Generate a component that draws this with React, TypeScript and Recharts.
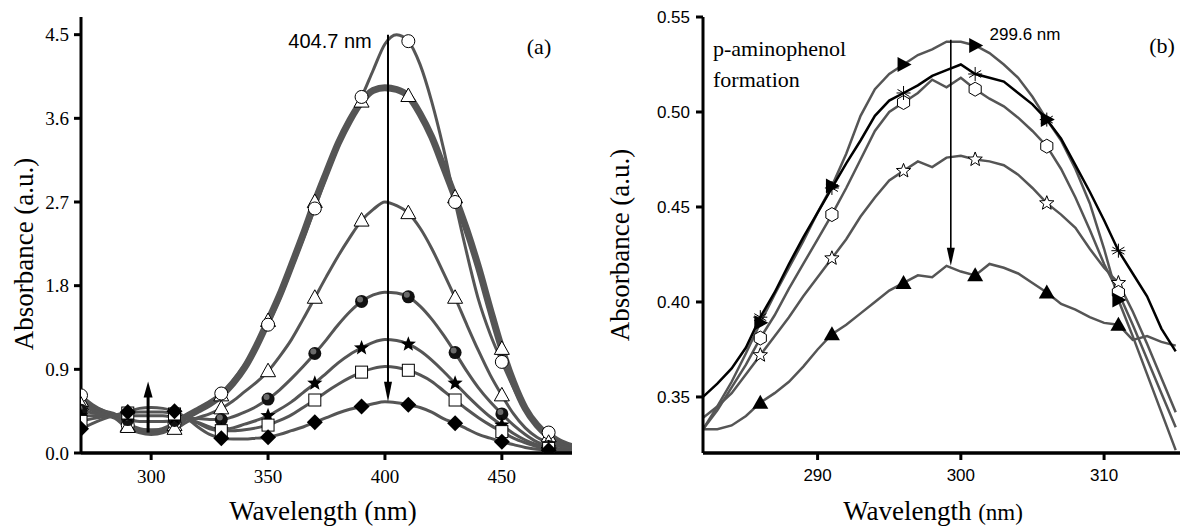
import React from 'react';
import { LineChart, Line, XAxis, YAxis, ReferenceLine } from 'recharts';

// ---- panel (a): nitrophenolate reduction spectra ----
const wavelengthsA = [
  270, 275, 280, 285, 290, 295, 300, 305, 310, 315, 320, 325, 330, 335, 340, 345, 350, 355, 360, 365, 370, 375,
  380, 385, 390, 395, 400, 405, 410, 415, 420, 425, 430, 435, 440, 445, 450, 455, 460, 465, 470, 475, 480,
];
const circleA = [
  0.62, 0.52, 0.45, 0.4, 0.3, 0.23, 0.21, 0.23, 0.32, 0.4, 0.47, 0.55, 0.64, 0.78, 0.95, 1.15, 1.38, 1.66, 1.98, 2.3,
  2.63, 2.98, 3.3, 3.6, 3.83, 4.12, 4.4, 4.5, 4.43, 4.18, 3.78, 3.28, 2.7, 2.15, 1.65, 1.28, 0.98, 0.7, 0.46, 0.3,
  0.22, 0.14, 0.09,
];
const thickA = [
  0.56, 0.48, 0.43, 0.39, 0.29, 0.24, 0.22, 0.24, 0.3, 0.39, 0.46, 0.53, 0.62, 0.75, 0.92, 1.15, 1.42, 1.7, 2.02, 2.35,
  2.7, 3.02, 3.33, 3.58, 3.78, 3.9, 3.93, 3.91, 3.84, 3.65, 3.4, 3.08, 2.75, 2.4, 2.0, 1.55, 1.12, 0.76, 0.48, 0.3,
  0.18, 0.1, 0.06,
];
const triangleA = [
  0.52, 0.46, 0.42, 0.39, 0.28, 0.25, 0.25, 0.25, 0.26, 0.33, 0.38, 0.42, 0.48, 0.56, 0.66, 0.76, 0.88, 1.04, 1.22,
  1.44, 1.67, 1.9, 2.12, 2.32, 2.5, 2.62, 2.7, 2.66, 2.58, 2.42, 2.2, 1.94, 1.67, 1.38, 1.1, 0.84, 0.62, 0.42, 0.27,
  0.17, 0.11, 0.07, 0.05,
];
const sphereA = [
  0.46, 0.43, 0.41, 0.4, 0.36, 0.34, 0.34, 0.34, 0.35, 0.37, 0.37, 0.36, 0.36, 0.39, 0.44, 0.5, 0.58, 0.68, 0.8, 0.93,
  1.07, 1.22, 1.38, 1.52, 1.63, 1.7, 1.73, 1.72, 1.68, 1.58, 1.44, 1.27, 1.08, 0.88, 0.7, 0.55, 0.42, 0.3, 0.2, 0.12,
  0.07, 0.04, 0.03,
];
const starA = [
  0.4, 0.4, 0.4, 0.4, 0.4, 0.4, 0.4, 0.4, 0.38, 0.37, 0.33, 0.28, 0.25, 0.27, 0.31, 0.35, 0.4, 0.47, 0.55, 0.65, 0.75,
  0.86, 0.97, 1.06, 1.13, 1.19, 1.22, 1.21, 1.17, 1.1, 1.0, 0.88, 0.75, 0.62, 0.5, 0.39, 0.3, 0.21, 0.14, 0.09, 0.06,
  0.04, 0.03,
];
const squareA = [
  0.34, 0.37, 0.39, 0.41, 0.43, 0.44, 0.44, 0.44, 0.42, 0.38, 0.32, 0.26, 0.24, 0.24, 0.25, 0.27, 0.3, 0.35, 0.41,
  0.49, 0.57, 0.66, 0.74, 0.81, 0.87, 0.91, 0.93, 0.92, 0.89, 0.84, 0.77, 0.67, 0.57, 0.47, 0.38, 0.3, 0.23, 0.16,
  0.11, 0.07, 0.05, 0.03, 0.02,
];
const diamondA = [
  0.26, 0.32, 0.37, 0.41, 0.44, 0.48, 0.49, 0.48, 0.45, 0.38, 0.28, 0.2, 0.16, 0.15, 0.15, 0.16, 0.17, 0.2, 0.24,
  0.28, 0.33, 0.38, 0.43, 0.47, 0.5, 0.53, 0.55, 0.54, 0.52, 0.49, 0.44, 0.37, 0.32, 0.26, 0.2, 0.16, 0.12, 0.09,
  0.06, 0.04, 0.03, 0.02, 0.02,
];
const xTicksA = [300, 350, 400, 450];
const yTicksA = [0, 0.9, 1.8, 2.7, 3.6, 4.5];

// ---- panel (b): p-aminophenol band ----
const wavelengthsB = [
  282, 283, 284, 285, 286, 287, 288, 289, 290, 291, 292, 293, 294, 295, 296, 297, 298, 299, 300, 301, 302, 303, 304,
  305, 306, 307, 308, 309, 310, 311, 312, 313, 314, 315,
];
const triRightB = [
  0.333, 0.345, 0.358, 0.373, 0.389, 0.404, 0.418, 0.432, 0.447, 0.461, 0.478, 0.498, 0.512, 0.52, 0.525, 0.53, 0.533,
  0.537, 0.537, 0.535, 0.531, 0.525, 0.518, 0.508, 0.496, 0.485, 0.47, 0.452, 0.428, 0.401, 0.382, 0.362, 0.342, 0.322,
];
const asteriskB = [
  0.35, 0.357, 0.365, 0.376, 0.392, 0.405, 0.42, 0.434, 0.447, 0.46, 0.473, 0.485, 0.498, 0.506, 0.51, 0.514, 0.519,
  0.522, 0.525, 0.52, 0.518, 0.516, 0.51, 0.504, 0.496, 0.486, 0.472, 0.458, 0.443, 0.427, 0.415, 0.403, 0.386, 0.374,
];
const hexagonB = [
  0.333, 0.343, 0.355, 0.367, 0.381, 0.393, 0.407, 0.42, 0.433, 0.446, 0.46, 0.475, 0.49, 0.5, 0.505, 0.51, 0.517,
  0.513, 0.518, 0.512, 0.507, 0.503, 0.497, 0.49, 0.482, 0.47, 0.455, 0.438, 0.42, 0.405, 0.388, 0.37, 0.352, 0.334,
];
const starB = [
  0.339, 0.345, 0.352, 0.362, 0.372, 0.382, 0.392, 0.403, 0.413, 0.423, 0.433, 0.445, 0.455, 0.464, 0.469, 0.474, 0.471,
  0.476, 0.477, 0.475, 0.474, 0.472, 0.467, 0.46, 0.452, 0.446, 0.439, 0.428, 0.418, 0.41, 0.395, 0.378, 0.36, 0.342,
];
const triUpB = [
  0.333, 0.333, 0.335, 0.34, 0.347, 0.352, 0.358, 0.366, 0.375, 0.383, 0.388, 0.394, 0.4, 0.406, 0.41, 0.414, 0.413,
  0.419, 0.416, 0.414, 0.42, 0.418, 0.415, 0.41, 0.405, 0.399, 0.396, 0.392, 0.389, 0.388, 0.38, 0.382, 0.379, 0.377,
];
const xTicksB = [290, 300, 310];
const yTicksB = [0.35, 0.4, 0.45, 0.5, 0.55];

const dataA = wavelengthsA.map((wl, i) => ({
  wl,
  circle: circleA[i],
  thick: thickA[i],
  triangle: triangleA[i],
  sphere: sphereA[i],
  star: starA[i],
  square: squareA[i],
  diamond: diamondA[i],
}));

const dataB = wavelengthsB.map((wl, i) => ({
  wl,
  triRight: triRightB[i],
  asterisk: asteriskB[i],
  hexagon: hexagonB[i],
  star: starB[i],
  triUp: triUpB[i],
}));

const SERIF = "'Liberation Serif', 'Times New Roman', serif";
const SANS = "'Liberation Sans', Arial, sans-serif";
const GREY = '#555555';

function starPoints(x: number, y: number, ro: number, ri: number) {
  const pts: string[] = [];
  for (let k = 0; k < 10; k++) {
    const r = k % 2 === 0 ? ro : ri;
    const a = -Math.PI / 2 + (k * Math.PI) / 5;
    pts.push(`${x + r * Math.cos(a)},${y + r * Math.sin(a)}`);
  }
  return pts.join(' ');
}

function hexPoints(x: number, y: number, r: number) {
  const pts: string[] = [];
  for (let k = 0; k < 6; k++) {
    const a = -Math.PI / 2 + (k * Math.PI) / 3;
    pts.push(`${x + r * Math.cos(a)},${y + r * Math.sin(a)}`);
  }
  return pts.join(' ');
}

function Marker({ shape, x, y }: { shape: string; x: number; y: number }) {
  switch (shape) {
    case 'circle':
      return <circle cx={x} cy={y} r={6.5} fill="#fff" stroke="#000" strokeWidth={1} />;
    case 'triangle':
      return (
        <polygon points={`${x},${y - 8} ${x - 7.5},${y + 5.5} ${x + 7.5},${y + 5.5}`} fill="#fff" stroke="#000" strokeWidth={1} />
      );
    case 'sphere':
      return (
        <g>
          <circle cx={x} cy={y} r={6.5} fill="#111" />
          <circle cx={x - 1.5} cy={y - 2} r={3} fill="#8a8a8a" opacity={0.75} />
        </g>
      );
    case 'starFilled':
      return <polygon points={starPoints(x, y, 8, 3.4)} fill="#000" />;
    case 'square':
      return <rect x={x - 6} y={y - 6} width={12} height={12} fill="#fff" stroke="#000" strokeWidth={1} />;
    case 'diamond':
      return <polygon points={`${x},${y - 8} ${x + 8},${y} ${x},${y + 8} ${x - 8},${y}`} fill="#000" />;
    case 'hexagon':
      return <polygon points={hexPoints(x, y, 7)} fill="#fff" stroke="#000" strokeWidth={1} />;
    case 'starOpen':
      return <polygon points={starPoints(x, y, 7.5, 3.2)} fill="#fff" stroke="#000" strokeWidth={1} />;
    case 'asterisk':
      return (
        <g stroke="#000" strokeWidth={1}>
          <line x1={x} y1={y - 7} x2={x} y2={y + 7} />
          <line x1={x - 6} y1={y - 3.5} x2={x + 6} y2={y + 3.5} />
          <line x1={x - 6} y1={y + 3.5} x2={x + 6} y2={y - 3.5} />
          <line x1={x - 7} y1={y} x2={x + 7} y2={y} />
        </g>
      );
    case 'triRight':
      return <polygon points={`${x + 8},${y} ${x - 6},${y - 7.5} ${x - 6},${y + 7.5}`} fill="#000" />;
    case 'triUp':
      return <polygon points={`${x},${y - 8} ${x - 8},${y + 6} ${x + 8},${y + 6}`} fill="#000" />;
    default:
      return null;
  }
}

const dotEvery = (shape: string, show: (wl: number) => boolean) => (props: any) => {
  const { cx, cy, payload, index } = props;
  if (cx == null || cy == null || !show(payload.wl)) return <g key={`m${index}`} />;
  return (
    <g key={`m${index}`}>
      <Marker shape={shape} x={cx} y={cy} />
    </g>
  );
};

const markA = (wl: number) => wl % 20 === 10;
const markB = (wl: number) => wl % 5 === 1;

const arrow = (headW: number, headL: number, sw: number) => (props: any) => {
  const { x1, y1, x2, y2 } = props;
  const dir = y2 > y1 ? 1 : -1;
  return (
    <g>
      <line x1={x1} y1={y1} x2={x2} y2={y2 - dir * headL * 0.6} stroke="#000" strokeWidth={sw} />
      <polygon
        points={`${x2},${y2} ${x2 - headW / 2},${y2 - dir * headL} ${x2 + headW / 2},${y2 - dir * headL}`}
        fill="#000"
      />
    </g>
  );
};

const axisStyle = { stroke: '#000', strokeWidth: 3 };

function Txt({ x, y, children, style }: { x: number; y: number; children: React.ReactNode; style?: React.CSSProperties }) {
  return (
    <div
      style={{
        position: 'absolute',
        left: x,
        top: y,
        transform: 'translate(-50%, -50%)',
        whiteSpace: 'nowrap',
        lineHeight: 1,
        color: '#000',
        ...style,
      }}
    >
      {children}
    </div>
  );
}

export default function App() {
  return (
    <div style={{ position: 'absolute', left: 0, top: 0, width: 1180, height: 530, background: '#fff', overflow: 'hidden' }}>
      <div style={{ position: 'absolute', left: 0, top: 0 }}>
        <LineChart width={590} height={530} data={dataA} margin={{ top: 17, right: 18, bottom: 0, left: 0 }}>
          <XAxis
            dataKey="wl"
            type="number"
            domain={[270, 480]}
            ticks={xTicksA}
            height={77}
            axisLine={{ stroke: '#000', strokeWidth: 3.5 }}
            tickLine={axisStyle}
            tickSize={7}
            tickMargin={10}
            tick={{ fontFamily: SERIF, fontSize: 19, fill: '#000' }}
            allowDataOverflow
          />
          <XAxis xAxisId="top" orientation="top" dataKey="wl" type="number" domain={[270, 480]} height={0} tick={false} tickLine={false} axisLine={{ stroke: '#000', strokeWidth: 2.5 }} />
          <YAxis
            type="number"
            domain={[0, 4.69]}
            ticks={yTicksA}
            width={81}
            axisLine={axisStyle}
            tickLine={axisStyle}
            tickSize={7}
            tickMargin={5}
            tickFormatter={(v: number) => v.toFixed(1)}
            tick={{ fontFamily: SERIF, fontSize: 19, fill: '#000' }}
            allowDataOverflow
          />
          <YAxis yAxisId="right" orientation="right" domain={[0, 4.69]} width={0} tick={false} tickLine={false} axisLine={{ stroke: '#000', strokeWidth: 2.5 }} />
          <Line dataKey="thick" stroke={GREY} strokeWidth={7} type="monotone" dot={dotEvery('triangle', markA)} isAnimationActive={false} />
          <Line dataKey="circle" stroke={GREY} strokeWidth={3} type="monotone" dot={dotEvery('circle', markA)} isAnimationActive={false} />
          <Line dataKey="triangle" stroke={GREY} strokeWidth={3} type="monotone" dot={dotEvery('triangle', markA)} isAnimationActive={false} />
          <Line dataKey="sphere" stroke={GREY} strokeWidth={3} type="monotone" dot={dotEvery('sphere', markA)} isAnimationActive={false} />
          <Line dataKey="star" stroke={GREY} strokeWidth={3} type="monotone" dot={dotEvery('starFilled', markA)} isAnimationActive={false} />
          <Line dataKey="square" stroke={GREY} strokeWidth={3} type="monotone" dot={dotEvery('square', markA)} isAnimationActive={false} />
          <Line dataKey="diamond" stroke={GREY} strokeWidth={3} type="monotone" dot={dotEvery('diamond', markA)} isAnimationActive={false} />
          <ReferenceLine segment={[{ x: 401.3, y: 4.5 }, { x: 401.3, y: 0.55 }]} shape={arrow(8, 20, 2)} />
          <ReferenceLine segment={[{ x: 298.7, y: 0.22 }, { x: 298.7, y: 0.77 }]} shape={arrow(9, 16, 3)} />
        </LineChart>
      </div>

      <div style={{ position: 'absolute', left: 590, top: 0 }}>
        <LineChart width={590} height={530} data={dataB} margin={{ top: 17, right: 0, bottom: 0, left: 0 }}>
          <XAxis
            dataKey="wl"
            type="number"
            domain={[282, 315.3]}
            ticks={xTicksB}
            height={77}
            axisLine={{ stroke: '#000', strokeWidth: 3.5 }}
            tickLine={axisStyle}
            tickSize={7}
            tickMargin={9}
            tick={{ fontFamily: SANS, fontSize: 17, fill: '#000' }}
            allowDataOverflow
          />
          <XAxis xAxisId="top" orientation="top" dataKey="wl" type="number" domain={[282, 315.3]} height={0} tick={false} tickLine={false} axisLine={{ stroke: '#000', strokeWidth: 3 }} />
          <YAxis
            type="number"
            domain={[0.3205, 0.55]}
            ticks={yTicksB}
            width={113}
            axisLine={axisStyle}
            tickLine={axisStyle}
            tickSize={7}
            tickMargin={6}
            tickFormatter={(v: number) => v.toFixed(2)}
            tick={{ fontFamily: SANS, fontSize: 17, fill: '#000' }}
            allowDataOverflow
          />
          <Line dataKey="triUp" stroke={GREY} strokeWidth={2.5} type="linear" dot={dotEvery('triUp', markB)} isAnimationActive={false} />
          <Line dataKey="star" stroke={GREY} strokeWidth={2.5} type="linear" dot={dotEvery('starOpen', markB)} isAnimationActive={false} />
          <Line dataKey="hexagon" stroke={GREY} strokeWidth={2.5} type="linear" dot={dotEvery('hexagon', markB)} isAnimationActive={false} />
          <Line dataKey="triRight" stroke={GREY} strokeWidth={2.5} type="linear" dot={dotEvery('triRight', markB)} isAnimationActive={false} />
          <Line dataKey="asterisk" stroke="#000" strokeWidth={2.5} type="linear" dot={dotEvery('asterisk', markB)} isAnimationActive={false} />
          <ReferenceLine segment={[{ x: 299.3, y: 0.538 }, { x: 299.3, y: 0.419 }]} shape={arrow(8, 18, 1.6)} />
        </LineChart>
      </div>

      <Txt x={24} y={254} style={{ fontFamily: SERIF, fontSize: 27, transform: 'translate(-50%, -50%) rotate(-90deg)' }}>
        Absorbance (a.u.)
      </Txt>
      <Txt x={323} y={511} style={{ fontFamily: SERIF, fontSize: 27 }}>
        Wavelength (nm)
      </Txt>
      <Txt x={620} y={245} style={{ fontFamily: SERIF, fontSize: 27, transform: 'translate(-50%, -50%) rotate(-90deg)' }}>
        Absorbance (a.u.)
      </Txt>
      <Txt x={933} y={511} style={{ fontFamily: SERIF, fontSize: 27 }}>
        Wavelength <span style={{ fontSize: 23 }}>(nm)</span>
      </Txt>
      <Txt x={330} y={41} style={{ fontFamily: SANS, fontSize: 20 }}>
        404.7 nm
      </Txt>
      <Txt x={539} y={47} style={{ fontFamily: SERIF, fontSize: 22 }}>
        (a)
      </Txt>
      <Txt x={1025} y={34} style={{ fontFamily: SANS, fontSize: 17 }}>
        299.6 nm
      </Txt>
      <Txt x={1162} y={46} style={{ fontFamily: SERIF, fontSize: 22 }}>
        (b)
      </Txt>
      <div style={{ position: 'absolute', left: 713, top: 33, fontFamily: SERIF, fontSize: 22, lineHeight: '31px', color: '#000' }}>
        p-aminophenol
        <br />
        formation
      </div>
    </div>
  );
}
